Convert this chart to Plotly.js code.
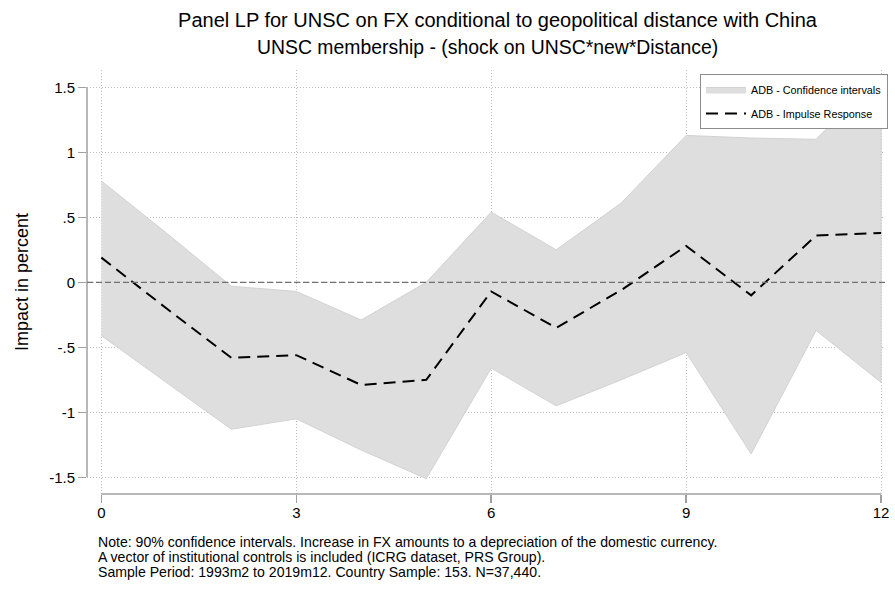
<!DOCTYPE html>
<html>
<head>
<meta charset="utf-8">
<script src="https://cdn.plot.ly/plotly-3.0.1.min.js"></script>
<style>html,body{margin:0;padding:0;background:#fff;}#chart{width:895px;height:589px;}</style>
</head>
<body>
<div id="chart"></div>
<script>
// Horizon (months)
var horizon = [0, 1, 2, 3, 4, 5, 6, 7, 8, 9, 10, 11, 12];
// Impulse response
var impulse = [0.19, -0.20, -0.58, -0.56, -0.79, -0.75, -0.07, -0.35, -0.06, 0.28, -0.10, 0.36, 0.38];
// 90% confidence bounds
var upperCI = [0.78, 0.38, -0.03, -0.07, -0.29, 0.00, 0.54, 0.25, 0.61, 1.13, 1.11, 1.10, 1.60];
var lowerCI = [-0.41, -0.77, -1.13, -1.05, -1.29, -1.51, -0.66, -0.95, -0.75, -0.54, -1.32, -0.37, -0.77];
var xTicks = [0, 3, 6, 9, 12];
var yTicks = [-1.5, -1, -0.5, 0, 0.5, 1, 1.5];
var yTickText = ['-1.5', '-1', '-.5', '0', '.5', '1', '1.5'];
var titleText = 'Panel LP for UNSC on FX conditional to geopolitical distance with China';
var subtitleText = 'UNSC membership - (shock on UNSC*new*Distance)';
var yTitle = 'Impact in percent';
var notes = [
  'Note: 90% confidence intervals. Increase in FX amounts to a depreciation of the domestic currency.',
  'A vector of institutional controls is included (ICRG dataset, PRS Group).',
  'Sample Period: 1993m2 to 2019m12. Country Sample: 153. N=37,440.'
];

var FONT = 'Liberation Sans, Arial, Helvetica, sans-serif';

var bandX = horizon.concat(horizon.slice().reverse());
var bandY = upperCI.concat(lowerCI.slice().reverse());

var traces = [
  {
    x: bandX, y: bandY, type: 'scatter', mode: 'lines',
    fill: 'toself', fillcolor: '#dedede',
    line: {color: '#d2d2d2', width: 1},
    name: 'ADB - Confidence intervals', hoverinfo: 'skip', legendgroup: 'a'
  },
  {
    x: horizon, y: impulse, type: 'scatter', mode: 'lines',
    line: {color: '#000000', width: 2, dash: '12px,7px'},
    name: 'ADB - Impulse Response', legendgroup: 'b'
  }
];

var L = 87, R = 888, T = 70, B = 494;
function px2paperX(px) { return (px - L) / (R - L); }
function px2paperY(py) { return (B - py) / (B - T); }

var annotations = [
  {text: subtitleText, xref: 'paper', yref: 'paper', x: px2paperX(489.5), y: px2paperY(47),
   xanchor: 'center', yanchor: 'middle', showarrow: false, font: {family: FONT, size: 19.4, color: '#000'}}
];
var noteY = [542, 557, 572];
for (var i = 0; i < notes.length; i++) {
  annotations.push({text: notes[i], xref: 'paper', yref: 'paper', x: px2paperX(96), y: px2paperY(noteY[i]),
    xanchor: 'left', yanchor: 'middle', showarrow: false, align: 'left',
    font: {family: FONT, size: 14.1, color: '#000'}});
}

var layout = {
  width: 895, height: 589,
  margin: {l: L, r: 895 - R, t: T, b: 589 - B, pad: 0},
  paper_bgcolor: '#ffffff', plot_bgcolor: '#ffffff',
  font: {family: FONT, color: '#000'},
  title: {text: titleText, xref: 'container', x: 497.5 / 895, xanchor: 'center',
          yref: 'container', y: 1 - 20 / 589, yanchor: 'middle',
          font: {family: FONT, size: 20, color: '#000'}},
  showlegend: true,
  legend: {x: px2paperX(891), xanchor: 'right', y: px2paperY(74), yanchor: 'top',
           bgcolor: '#ffffff', bordercolor: '#8c8c8c', borderwidth: 1,
           font: {family: FONT, size: 10.8, color: '#000'}, itemwidth: 40, tracegroupgap: 5},
  xaxis: {
    range: [-0.221, 12.06], tickvals: xTicks, ticktext: xTicks.map(String),
    showgrid: true, gridcolor: '#bdbdbd', griddash: '1px,2px', gridwidth: 1,
    zeroline: false, showline: false,
    ticks: 'outside', ticklen: 8, tickcolor: '#a0a0a0', tickwidth: 1.5,
    ticklabelstandoff: -3,
    tickfont: {family: FONT, size: 15, color: '#000'}
  },
  yaxis: {
    range: [-1.628, 1.633], tickvals: yTicks, ticktext: yTickText,
    showgrid: true, gridcolor: '#bdbdbd', griddash: '1px,2px', gridwidth: 1,
    zeroline: false, showline: false,
    ticks: 'outside', ticklen: 8, tickcolor: '#a0a0a0', tickwidth: 1.5,
    tickfont: {family: FONT, size: 15, color: '#000'},
    title: {text: yTitle, font: {family: FONT, size: 18, color: '#000'}, standoff: 15}
  },
  shapes: [
    {type: 'line', xref: 'paper', yref: 'y', x0: 0, x1: 0, y0: -1.5, y1: 1.5,
     line: {color: '#a0a0a0', width: 1.5}},
    {type: 'line', xref: 'x', yref: 'paper', x0: 0, x1: 12, y0: 0, y1: 0,
     line: {color: '#a0a0a0', width: 1.5}},
    {type: 'line', xref: 'paper', yref: 'y', x0: 0, x1: 1, y0: 0, y1: 0, layer: 'above',
     line: {color: '#707070', width: 1.3, dash: '6px,3px'}}
  ],
  annotations: annotations
};

Plotly.newPlot('chart', traces, layout, {displayModeBar: false, staticPlot: true});
</script>
</body>
</html>
